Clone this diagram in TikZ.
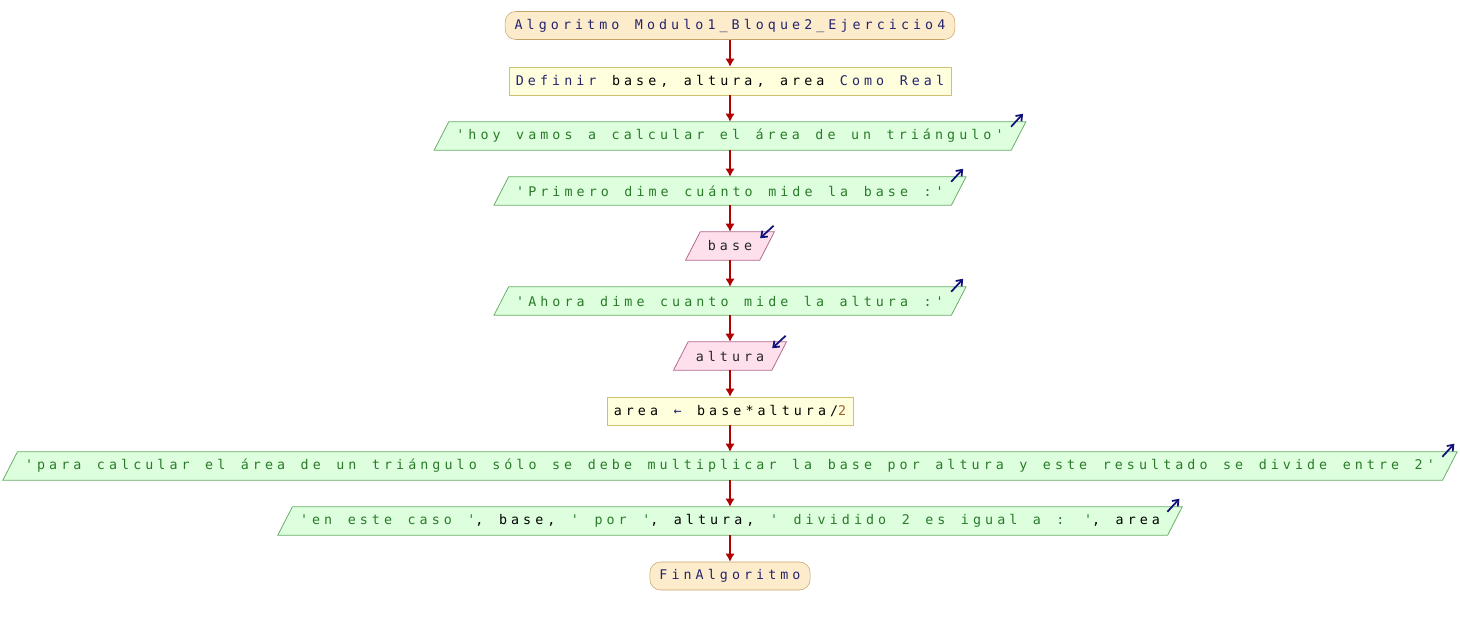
\documentclass[tikz,border=0pt]{standalone}
\usepackage{fontspec}
\newfontfamily\psfont[LetterSpace=30.5]{DejaVu Sans Mono}
\usetikzlibrary{arrows.meta,backgrounds}

\definecolor{kwcol}{HTML}{24246E}
\definecolor{strcol}{HTML}{2A7A2A}
\definecolor{numcol}{HTML}{A0602A}
\definecolor{termfill}{HTML}{FDECCB}
\definecolor{termdraw}{HTML}{C8A468}
\definecolor{procfill}{HTML}{FFFFDD}
\definecolor{procdraw}{HTML}{CFC172}
\definecolor{outfill}{HTML}{DDFFDD}
\definecolor{outdraw}{HTML}{6AAE6A}
\definecolor{infill}{HTML}{FDE0EC}
\definecolor{indraw}{HTML}{B46A8E}
\definecolor{flowred}{HTML}{B00000}
\definecolor{ionavy}{HTML}{10107A}

\newcommand{\pkw}[1]{\textcolor{kwcol}{#1}}
\newcommand{\pstr}[1]{\textcolor{strcol}{#1}}
\newcommand{\pnum}[1]{\textcolor{numcol}{#1}}
\newcommand{\flowfont}{\psfont\fontsize{10}{12}\selectfont\spaceskip 11.65pt\relax}

\tikzset{
	terminal/.style={draw=termdraw, fill=termfill, rounded corners=8pt, minimum height=21pt, inner xsep=7.2pt, inner ysep=2pt, text=kwcol},
	process/.style={draw=procdraw, fill=procfill, minimum height=21pt, inner xsep=5pt, inner ysep=2pt, text=black},
	outbox/.style={minimum height=21pt, inner xsep=11pt, inner ysep=2pt, text=strcol},
	inbox/.style={minimum height=21pt, inner xsep=11pt, inner ysep=2pt, text=black!85},
	outshape/.style={draw=outdraw, fill=outfill, line width=0.6pt},
	inshape/.style={draw=indraw, fill=infill, line width=0.6pt},
	flow/.style={draw=flowred, line width=1.5pt, -{Latex[length=6pt,width=7pt]}},
	iomark/.style={draw=ionavy, line width=1.3pt, -{Straight Barb[length=4pt,width=6pt]}}
}

\begin{document}
\begin{tikzpicture}[x=0.75pt, y=-0.75pt, font=\flowfont]
	\useasboundingbox (0,0) rectangle (1460,625);
	% nodes, top to bottom
	\node[terminal] (inicio) at (730,25.5) {Algoritmo Modulo1\_Bloque2\_Ejercicio4};
	\node[process] (definir) at (730,81) {\pkw{Definir} base, altura, area \pkw{Como Real}};
	\node[outbox] (hoy) at (730,136) {'hoy vamos a calcular el área de un triángulo'};
	\node[outbox] (pidebase) at (730,191) {'Primero dime cuánto mide la base :'};
	\node[inbox] (leebase) at (730,246) {base};
	\node[outbox] (pidealtura) at (730,301) {'Ahora dime cuanto mide la altura :'};
	\node[inbox] (leealtura) at (730,356) {altura};
	\node[process] (calculo) at (730,411) {area \pkw{←} base*altura/\pnum{2}};
	\node[outbox] (explica) at (730,466) {'para calcular el área de un triángulo sólo se debe multiplicar la base por altura y este resultado se divide entre 2'};
	\node[outbox] (resultado) at (730,521) {'en este caso '\textcolor{black}{, base, }' por '\textcolor{black}{, altura, }' dividido 2 es igual a : '\textcolor{black}{, area}};
	\node[terminal] (fin) at (730,576) {FinAlgoritmo};

	% parallelograms behind the text
	\begin{pgfonlayer}{background}
		\foreach \n/\s in {hoy/outshape, pidebase/outshape, leebase/inshape, pidealtura/outshape, leealtura/inshape, explica/outshape, resultado/outshape}
			\draw[\s] ([xshift=-5.5]\n.south west) -- ([xshift=-5.5]\n.south east) -- ([xshift=5.5]\n.north east) -- ([xshift=5.5]\n.north west) -- cycle;
	\end{pgfonlayer}

	% flow arrows
	\foreach \a/\b in {inicio/definir, definir/hoy, hoy/pidebase, pidebase/leebase, leebase/pidealtura, pidealtura/leealtura, leealtura/calculo, calculo/explica, explica/resultado, resultado/fin}
		\draw[flow] (\a.south) -- (\b.north);

	% output marks
	\foreach \n in {hoy, pidebase, pidealtura, explica, resultado}
		\draw[iomark] ([shift={(-7.5,5)}]\n.north east) -- ++(12,-13);
	% input marks
	\foreach \n in {leebase, leealtura}
		\draw[iomark] ([shift={(6.5,-6)}]\n.north east) -- ++(-13.5,12.5);
\end{tikzpicture}
\end{document}
